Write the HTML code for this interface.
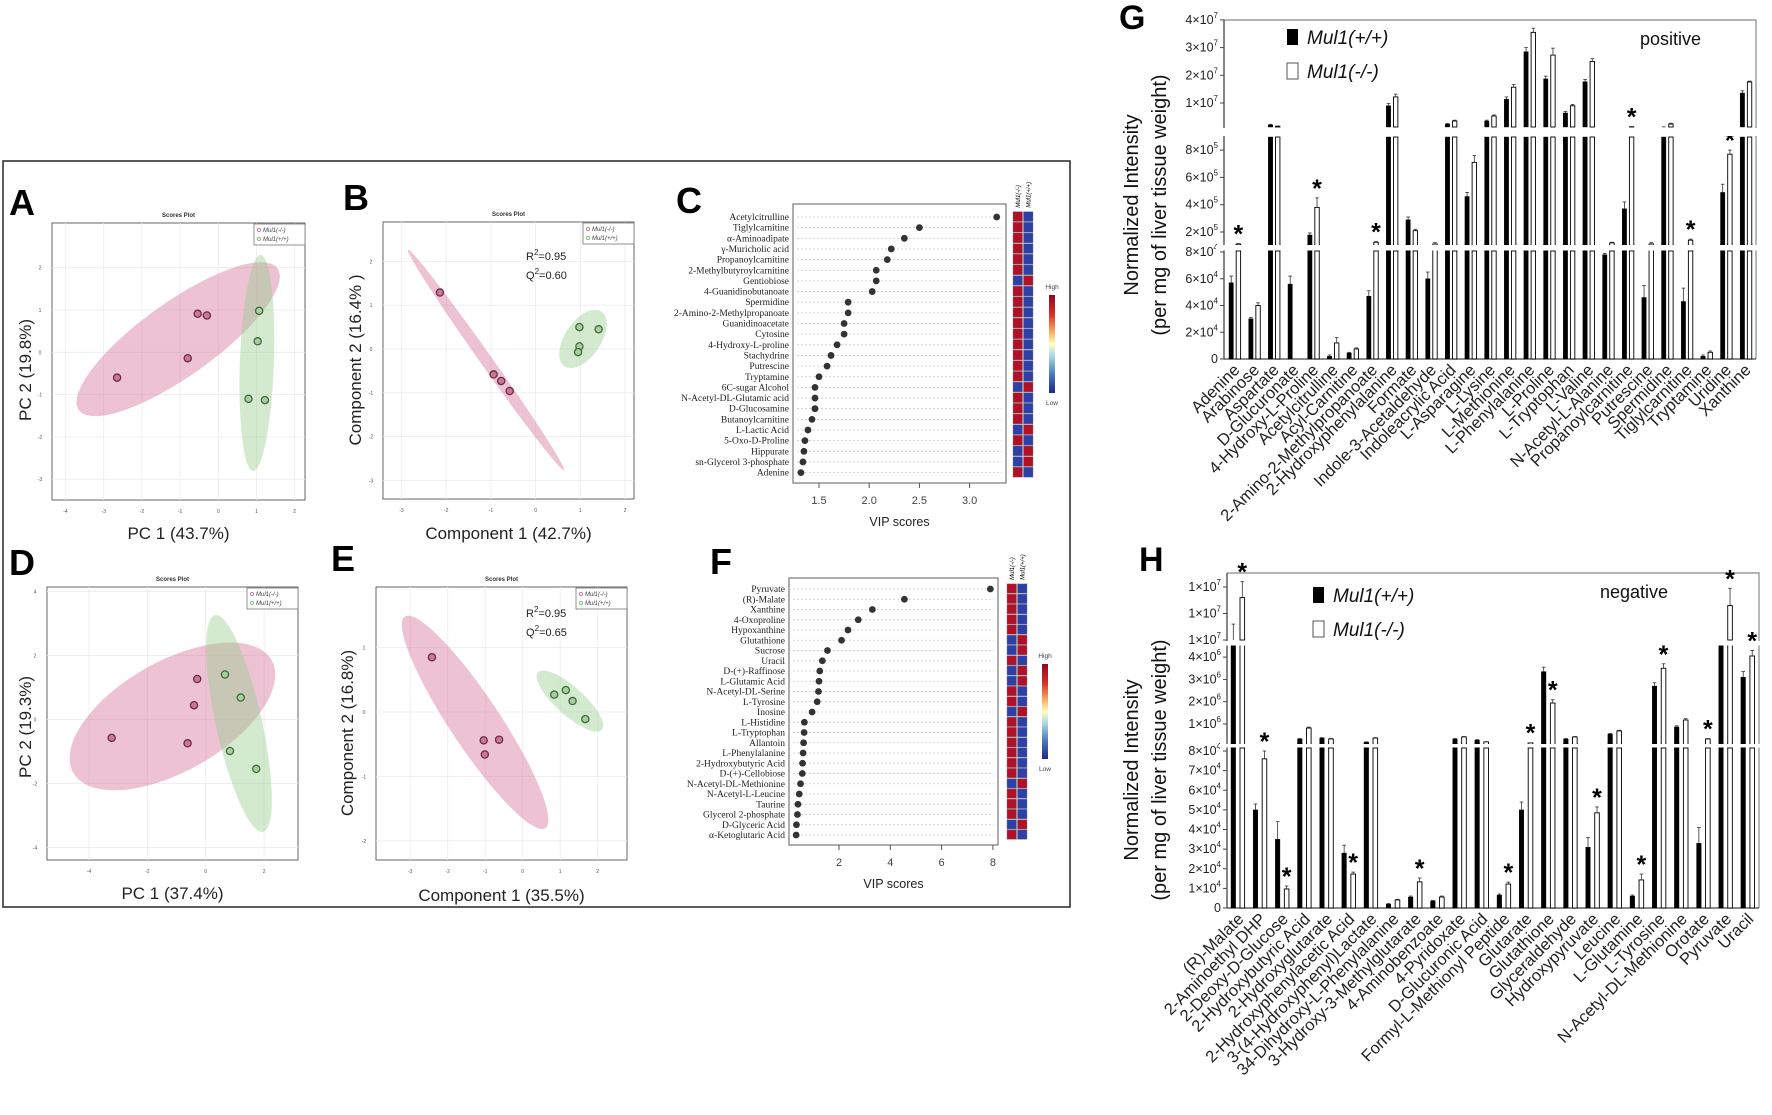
<!DOCTYPE html>
<html><head><meta charset="utf-8">
<style>
html,body{margin:0;padding:0;background:#fff;}
svg{display:block;font-family:"Liberation Sans",Arial,sans-serif;}
</style></head>
<body>
<svg id="fig" width="1772" height="1115" viewBox="0 0 1772 1115" xmlns="http://www.w3.org/2000/svg">
<defs>
<linearGradient id="cbar" x1="0" y1="0" x2="0" y2="1">
<stop offset="0" stop-color="#8b0a1e"/><stop offset="0.2" stop-color="#d73027"/><stop offset="0.38" stop-color="#fdae61"/><stop offset="0.5" stop-color="#ffffbf"/><stop offset="0.62" stop-color="#abd9e9"/><stop offset="0.82" stop-color="#4575b4"/><stop offset="1" stop-color="#1c2a8c"/>
</linearGradient>
</defs>
<rect x="3" y="161" width="1067" height="746" fill="none" stroke="#333" stroke-width="1.6"/>
</svg>
<script>
// ---------- DATA ----------
// Panel A (PCA)
const aKOx=[-0.54,-0.30,-0.80,-2.65], aKOy=[0.91,0.87,-0.14,-0.60];
const aWTx=[1.07,1.03,0.79,1.22], aWTy=[0.98,0.26,-1.10,-1.13];
const aXTicks=[-4,-3,-2,-1,0,1,2], aYTicks=[2,1,0,-1,-2,-3];
// Panel B (PLS-DA)
const bKOx=[-2.14,-0.94,-0.77,-0.58], bKOy=[1.29,-0.58,-0.73,-0.96];
const bWTx=[0.98,1.41,0.98,0.95], bWTy=[0.50,0.45,0.06,-0.07];
const bXTicks=[-3,-2,-1,0,1,2], bYTicks=[2,1,0,-1,-2,-3];
// Panel D (PCA)
const dKOx=[-0.29,-0.40,-0.62,-3.22], dKOy=[1.26,0.44,-0.75,-0.58];
const dWTx=[0.66,1.20,0.83,1.73], dWTy=[1.40,0.68,-0.99,-1.55];
const dXTicks=[-4,-2,0,2], dYTicks=[4,2,0,-2,-4];
// Panel E (PLS-DA)
const eKOx=[-2.42,-1.04,-0.63,-1.01], eKOy=[0.85,-0.44,-0.43,-0.66];
const eWTx=[0.84,1.15,1.33,1.67], eWTy=[0.27,0.34,0.17,-0.11];
const eXTicks=[-3,-2,-1,0,1,2], eYTicks=[1,0,-1,-2];
// Panel C (VIP)
const cNames=["Acetylcitrulline","Tiglylcarnitine","α-Aminoadipate","γ-Muricholic acid","Propanoylcarnitine","2-Methylbutyroylcarnitine","Gentiobiose","4-Guanidinobutanoate","Spermidine","2-Amino-2-Methylpropanoate","Guanidinoacetate","Cytosine","4-Hydroxy-L-proline","Stachydrine","Putrescine","Tryptamine","6C-sugar Alcohol","N-Acetyl-DL-Glutamic acid","D-Glucosamine","Butanoylcarnitine","L-Lactic Acid","5-Oxo-D-Proline","Hippurate","sn-Glycerol 3-phosphate","Adenine"];
const cVip=[3.27,2.5,2.35,2.22,2.18,2.07,2.07,2.03,1.79,1.79,1.75,1.75,1.68,1.62,1.58,1.5,1.46,1.46,1.46,1.43,1.39,1.36,1.35,1.34,1.32];
const cHeatKO=[1,1,1,1,1,1,0,1,1,1,1,1,1,1,1,1,0,1,1,1,0,1,0,0,1];
const cHeatWT=[0,0,0,0,0,0,1,0,0,0,0,0,0,0,0,0,1,0,0,0,1,0,1,1,0];
const cTicks=[1.5,2.0,2.5,3.0];
// Panel F (VIP)
const fNames=["Pyruvate","(R)-Malate","Xanthine","4-Oxoproline","Hypoxanthine","Glutathione","Sucrose","Uracil","D-(+)-Raffinose","L-Glutamic Acid","N-Acetyl-DL-Serine","L-Tyrosine","Inosine","L-Histidine","L-Tryptophan","Allantoin","L-Phenylalanine","2-Hydroxybutyric Acid","D-(+)-Cellobiose","N-Acetyl-DL-Methionine","N-Acetyl-L-Leucine","Taurine","Glycerol 2-phosphate","D-Glyceric Acid","α-Ketoglutaric Acid"];
const fVip=[7.9,4.55,3.3,2.75,2.35,2.1,1.55,1.35,1.25,1.22,1.2,1.15,0.95,0.65,0.64,0.62,0.6,0.58,0.57,0.5,0.45,0.4,0.38,0.34,0.33];
const fHeatKO=[1,1,1,1,1,0,0,1,0,0,1,1,0,1,1,1,1,1,1,0,1,1,1,0,1];
const fHeatWT=[0,0,0,0,0,1,1,0,1,1,0,0,1,0,0,0,0,0,0,1,0,0,0,1,0];
const fTicks=[2,4,6,8];
// Panel G (positive mode bars)
const gCats=["Adenine","Arabinose","Aspartate","D-Glucuronate","4-Hydroxy-L-Proline","Acetylcitrulline","Acyl-Carnitine","2-Amino-2-Methylpropanoate","2-Hydroxyphenylalanine","Formate","Indole-3-Acetaldehyde","Indoleacrylic Acid","L-Asparagine","L-Lysine","L-Methionine","L-Phenylalanine","L-Proline","L-Tryptophan","L-Valine","N-Acetyl-L-Alanine","Propanoylcarnitine","Putrescine","Spermidine","Tiglylcarnitine","Tryptamine","Uridine","Xanthine"];
const gWT=[5.7e4,3.0e4,2.1e6,5.6e4,1.78e5,2e3,4.5e3,4.7e4,9.0e6,2.9e5,6.0e4,2.4e6,4.6e5,3.5e6,1.14e7,2.85e7,1.87e7,6.4e6,1.77e7,7.8e4,3.7e5,4.6e4,1.3e6,4.3e4,2e3,4.9e5,1.36e7];
const gKO=[1.1e5,4.0e4,1.6e6,0,3.8e5,1.2e4,7.5e3,1.25e5,1.22e7,2.1e5,8.6e4,3.5e6,7.1e5,5.3e6,1.57e7,3.55e7,2.73e7,9.0e6,2.5e7,1.2e5,1.4e6,8.6e4,2.4e6,1.4e5,5e3,7.7e5,1.76e7];
const gWTerr=[5e3,1e3,2e5,6e3,1.5e4,1e3,5e2,4e3,8e5,2e4,5e3,2e5,3e4,3e5,8e5,1.5e6,1e6,5e5,8e5,1e3,5e4,9e3,1e5,1e4,1e3,6e4,8e5];
const gKOerr=[5e3,2e3,1e5,0,7e4,4e3,8e2,5e3,1e6,1e4,1e3,3e5,5e4,4e5,1e6,1.5e6,2.5e6,5e5,1e6,5e3,1e5,1e3,3e5,8e3,1e3,3e4,3e5];
const gSig=[1,0,0,0,1,0,0,1,0,0,0,0,0,0,0,0,0,0,0,0,1,0,0,1,0,1,0];
const gTickVals=[0,2e4,4e4,6e4,8e4,2e5,4e5,6e5,8e5,1e7,2e7,3e7,4e7];
const gTickMant=["0","2","4","6","8","2","4","6","8","1","2","3","4"];
const gTickExp=["","4","4","4","4","5","5","5","5","7","7","7","7"];
// Panel H (negative mode bars)
const hCats=["(R)-Malate","2-Aminoethyl DHP","2-Deoxy-D-Glucose","2-Hydroxybutyric Acid","2-Hydroxyglutarate","2-Hydroxyphenylacetic Acid","3-(4-Hydroxyphenyl)Lactate","34-Dihydroxy-L-Phenylalanine","3-Hydroxy-3-Methylglutarate","4-Aminobenzoate","4-Pyridoxate","D-Glucuronic Acid","Formyl-L-Methionyl Peptide","Glutarate","Glutathione","Glyceraldehyde","Hydroxypyruvate","Leucine","L-Glutamine","L-Tyrosine","N-Acetyl-DL-Methionine","Orotate","Pyruvate","Uracil"];
const hWT=[1.0e7,5.0e4,3.5e4,3.3e5,3.7e5,2.8e4,1.9e5,2e3,5.6e3,3.6e3,3.3e5,2.8e5,6.6e3,5.0e4,3.35e6,3.3e5,3.1e4,5.5e5,6.1e3,2.7e6,8.7e5,3.3e4,4.6e6,3.1e6];
const hKO=[1.32e7,7.6e4,9.7e3,8.2e5,3.3e5,1.73e4,3.7e5,4.1e3,1.33e4,5.6e3,4.2e5,2.0e5,1.22e4,1.5e5,1.94e6,4.2e5,4.85e4,6.9e5,1.43e4,3.5e6,1.18e6,3.3e5,1.26e7,4.05e6];
const hWTerr=[1.2e6,3e3,9e3,2e4,2e4,4e3,1e4,3e2,5e2,3e2,2e4,2e4,5e2,4e3,2e5,2e4,5e3,3e4,5e2,1.5e5,5e4,8e3,0,2.5e5];
const hKOerr=[1.2e6,4e3,1.5e3,4e4,2e4,1e3,2e4,3e2,2e3,5e2,2e4,1e4,1e3,1e4,1.5e5,2e4,3e3,3e4,3e3,2e5,6e4,2e4,1.3e6,2.5e5];
const hSig=[1,1,1,0,0,1,0,0,1,0,0,0,1,1,1,0,1,0,1,1,0,1,1,1];
const hTickVals=[0,1e4,2e4,3e4,4e4,5e4,6e4,7e4,8e4,1e6,2e6,3e6,4e6,1.0e7,1.2e7,1.4e7];
const hTickMant=["0","1","2","3","4","5","6","7","8","1","2","3","4","1","1","1"];
const hTickExp=["","4","4","4","4","4","4","4","4","6","6","6","6","7","7","7"];

// ---------- HELPERS ----------
const NS="http://www.w3.org/2000/svg";
const svg=document.getElementById('fig');
function mk(tag,attrs,name,parent){
  const el=document.createElementNS(NS,tag);
  for(const k in attrs) el.setAttribute(k,attrs[k]);
  
  
  (parent||svg).appendChild(el);
  return el;
}
function txt(x,y,s,attrs,name,parent){
  const a=Object.assign({x:x,y:y},attrs||{});
  const t=mk('text',a,name,parent); t.textContent=s; return t;
}
function grp(name){return mk('g',{},name);}

// ---------- SCATTER PANELS ----------
function scatter(p){
  const g=grp(p.id+'-scores-plot');
  const X=v=>p.x0+v*p.ux, Y=v=>p.y0-v*p.uy;
  txt(p.lx,p.ly,p.letter,{'font-size':36,'font-weight':'bold'},p.id+'-panel-label',g);
  txt((p.bx+p.bx2)/2,p.by-6,'Scores Plot',{'font-size':6,'font-weight':'bold','text-anchor':'middle',fill:'#333'},p.id+'-title',g);
  mk('rect',{x:p.bx,y:p.by,width:p.bx2-p.bx,height:p.by2-p.by,fill:'#fff',stroke:'#666','stroke-width':1},p.id+'-plot-area',g);
  p.xt.forEach(v=>{
    mk('line',{x1:X(v),x2:X(v),y1:p.by,y2:p.by2,stroke:'#ececec','stroke-width':0.8},p.id+'-x-gridline',g);
    txt(X(v),p.by2+13,String(v),{'font-size':5,'text-anchor':'middle',fill:'#555'},p.id+'-x-tick-label',g);
  });
  p.yt.forEach(v=>{
    mk('line',{x1:p.bx,x2:p.bx2,y1:Y(v),y2:Y(v),stroke:'#ececec','stroke-width':0.8},p.id+'-y-gridline',g);
    txt(p.bx-12,Y(v)+2,String(v),{'font-size':5,'text-anchor':'middle',fill:'#555'},p.id+'-y-tick-label',g);
  });
  p.ell.forEach((e,i)=>{
    const cx=X(e[0]),cy=Y(e[1]);
    mk('ellipse',{cx:cx,cy:cy,rx:e[2],ry:e[3],transform:`rotate(${e[4]} ${cx} ${cy})`,fill:i==0?'rgba(214,120,155,0.45)':'rgba(150,205,140,0.42)'},p.id+(i==0?'-ko-ellipse':'-wt-ellipse'),g);
  });
  p.kx.forEach((v,i)=>mk('circle',{cx:X(v),cy:Y(p.ky[i]),r:3.6,fill:'#c77a95',stroke:'#6e2a45','stroke-width':1.3},p.id+'-ko-point',g));
  p.wx.forEach((v,i)=>mk('circle',{cx:X(v),cy:Y(p.wy[i]),r:3.6,fill:'#a9cf9e',stroke:'#3f6a3f','stroke-width':1.3},p.id+'-wt-point',g));
  const lg=mk('g',{},p.id+'-legend',g);
  mk('rect',{x:p.bx2-51,y:p.by+1,width:51,height:21,fill:'#fff',stroke:'#777','stroke-width':0.8},p.id+'-legend-box',lg);
  mk('circle',{cx:p.bx2-46,cy:p.by+7,r:1.6,fill:'none',stroke:'#c77a95'},p.id+'-legend-ko-marker',lg);
  txt(p.bx2-42,p.by+9,'Mul1(-/-)',{'font-size':6,'font-style':'italic',fill:'#444'},p.id+'-legend-ko-label',lg);
  mk('circle',{cx:p.bx2-46,cy:p.by+16,r:1.6,fill:'none',stroke:'#7fbf6f'},p.id+'-legend-wt-marker',lg);
  txt(p.bx2-42,p.by+18,'Mul1(+/+)',{'font-size':6,'font-style':'italic',fill:'#444'},p.id+'-legend-wt-label',lg);
  if(p.r2){
    const r=txt(p.r2x,p.r2y,'',{'font-size':11,fill:'#222'},p.id+'-r2-label',g);
    r.innerHTML='R<tspan dy="-5" font-size="8">2</tspan><tspan dy="5">='+p.r2+'</tspan>';
    const q=txt(p.r2x,p.r2y+19,'',{'font-size':11,fill:'#222'},p.id+'-q2-label',g);
    q.innerHTML='Q<tspan dy="-5" font-size="8">2</tspan><tspan dy="5">='+p.q2+'</tspan>';
  }
  txt((p.bx+p.bx2)/2,p.xly,p.xl,{'font-size':17,'text-anchor':'middle',fill:'#222'},p.id+'-x-axis-title',g);
  txt(p.ylx,p.yly,p.yl,{'font-size':17,'text-anchor':'middle',fill:'#222',transform:`rotate(-90 ${p.ylx} ${p.yly})`},p.id+'-y-axis-title',g);
}
scatter({id:'a',letter:'A',lx:9,ly:215,bx:52,bx2:305,by:223,by2:500,x0:218.3,ux:38.2,y0:352.3,uy:42.3,xt:aXTicks,yt:aYTicks,
  kx:aKOx,ky:aKOy,wx:aWTx,wy:aWTy,ell:[[-1.05,0.31,122,37,-35.5],[1.01,-0.25,108,17,92]],xl:'PC 1 (43.7%)',xly:539,yl:'PC 2 (19.8%)',ylx:31,yly:370});
scatter({id:'b',letter:'B',lx:343,ly:210,bx:383,bx2:634,by:222,by2:499,x0:535.6,ux:44.7,y0:349,uy:43.8,xt:bXTicks,yt:bYTicks,
  kx:bKOx,ky:bKOy,wx:bWTx,wy:bWTy,ell:[[-1.11,-0.25,135,6,54.7],[1.06,0.23,33,18,-56]],r2:'0.95',q2:'0.60',r2x:526,r2y:260,
  xl:'Component 1 (42.7%)',xly:539,yl:'Component 2 (16.4% )',ylx:361,yly:360});
scatter({id:'d',letter:'D',lx:9,ly:575,bx:47,bx2:298,by:587,by2:860,x0:205.7,ux:29.2,y0:719.3,uy:32,xt:dXTicks,yt:dYTicks,
  kx:dKOx,ky:dKOy,wx:dWTx,wy:dWTy,ell:[[-1.14,0.09,114,55,-29.6],[1.14,-0.13,111,23,77.5]],xl:'PC 1 (37.4%)',xly:899,yl:'PC 2 (19.3%)',ylx:31,yly:727});
scatter({id:'e',letter:'E',lx:331,ly:571,bx:376,bx2:627,by:587,by2:860,x0:522.7,ux:37.5,y0:712,uy:64.4,xt:eXTicks,yt:eYTicks,
  kx:eKOx,ky:eKOy,wx:eWTx,wy:eWTy,ell:[[-1.27,-0.16,127,25,56.4],[1.26,0.17,43,14,42]],r2:'0.95',q2:'0.65',r2x:526,r2y:617,
  xl:'Component 1 (35.5%)',xly:901,yl:'Component 2 (16.8%)',ylx:353,yly:733});

// ---------- VIP PANELS ----------
function vip(p){
  const g=grp(p.id+'-vip-plot');
  const X=v=>p.x0+(v-p.v0)*p.ux;
  txt(p.lx,p.ly,p.letter,{'font-size':36,'font-weight':'bold'},p.id+'-panel-label',g);
  mk('rect',{x:p.bx,y:p.by,width:p.bx2-p.bx,height:p.by2-p.by,fill:'#fff',stroke:'#777','stroke-width':1.2},p.id+'-plot-area',g);
  p.names.forEach((n,i)=>{
    const y=p.r0+i*p.dr;
    mk('line',{x1:p.bx+4,x2:p.bx2-4,y1:y,y2:y,stroke:'#c8c8c8','stroke-width':0.8,'stroke-dasharray':'2,2'},p.id+'-row-gridline',g);
    txt(p.bx-4,y+3,n,{'font-size':9.5,'text-anchor':'end','font-family':'"Liberation Serif",serif',fill:'#222'},p.id+'-row-label',g);
    mk('circle',{cx:X(p.vals[i]),cy:y,r:3.4,fill:'#333'},p.id+'-vip-dot',g);
    mk('rect',{x:p.hx,y:y-p.dr/2,width:9.5,height:p.dr-0.8,fill:p.ko[i]?'#b01028':'#2e3fa8',stroke:'#777','stroke-width':0.4},p.id+'-heat-ko-cell',g);
    mk('rect',{x:p.hx+10.5,y:y-p.dr/2,width:9.5,height:p.dr-0.8,fill:p.wt[i]?'#b01028':'#2e3fa8',stroke:'#777','stroke-width':0.4},p.id+'-heat-wt-cell',g);
  });
  p.ticks.forEach(v=>{
    mk('line',{x1:X(v),x2:X(v),y1:p.by2,y2:p.by2+5,stroke:'#555'},p.id+'-x-tick',g);
    txt(X(v),p.by2+21,p.fmt(v),{'font-size':11,'text-anchor':'middle',fill:'#444'},p.id+'-x-tick-label',g);
  });
  txt((p.bx+p.bx2)/2,p.by2+43,'VIP scores',{'font-size':12.5,'text-anchor':'middle',fill:'#222'},p.id+'-x-axis-title',g);
  const cy=p.r0-p.dr/2-4;
  txt(p.hx+7,cy,'Mul1(-/-)',{'font-size':6,'font-style':'italic',transform:`rotate(-90 ${p.hx+7} ${cy})`},p.id+'-heat-ko-header',g);
  txt(p.hx+17.5,cy,'Mul1(+/+)',{'font-size':6,'font-style':'italic',transform:`rotate(-90 ${p.hx+17.5} ${cy})`},p.id+'-heat-wt-header',g);
  mk('rect',{x:p.cbx,y:p.cby,width:6,height:p.cbh,fill:'url(#cbar)'},p.id+'-color-bar',g);
  txt(p.cbx+3,p.cby-6,'High',{'font-size':6.5,'text-anchor':'middle',fill:'#444'},p.id+'-color-high-label',g);
  txt(p.cbx+3,p.cby+p.cbh+12,'Low',{'font-size':6.5,'text-anchor':'middle',fill:'#444'},p.id+'-color-low-label',g);
}
vip({id:'c',letter:'C',lx:676,ly:213,bx:793,bx2:1006,by:204,by2:483,v0:1.5,x0:819,ux:100.4,names:cNames,vals:cVip,ko:cHeatKO,wt:cHeatWT,
  r0:217,dr:10.65,hx:1013,ticks:cTicks,fmt:v=>v.toFixed(1),cbx:1049,cby:295,cbh:98});
vip({id:'f',letter:'F',lx:710,ly:574,bx:789,bx2:998,by:578,by2:845,v0:2,x0:839,ux:25.65,names:fNames,vals:fVip,ko:fHeatKO,wt:fHeatWT,
  r0:589,dr:10.25,hx:1007,ticks:fTicks,fmt:v=>String(v),cbx:1042,cby:664,cbh:95});

// ---------- BAR PANELS ----------
function bars(p){
  const g=grp(p.id+'-bar-chart');
  const segY=(v)=>{ // returns pixel of top for value
    let top=null;
    p.segs.forEach(s=>{ if(v>s.vmin){ top=Math.max(s.yt,s.f(v)); } });
    return top;
  };
  const segOf=(v)=>{let r=null;p.segs.forEach(s=>{if(v>s.vmin)r=s;});return r;};
  txt(p.lx,p.ly,p.letter,{'font-size':34,'font-weight':'bold'},p.id+'-panel-label',g);
  // frame
  mk('path',{d:`M${p.ax},${p.top} H${p.right} V${p.base}`,fill:'none',stroke:'#888','stroke-width':1.2},p.id+'-frame',g);
  mk('line',{x1:p.ax,x2:p.right,y1:p.base,y2:p.base,stroke:'#444','stroke-width':1.3},p.id+'-x-axis',g);
  mk('line',{x1:p.ax,x2:p.ax,y1:p.top,y2:p.base,stroke:'#444','stroke-width':1.3},p.id+'-y-axis',g);
  // ticks
  p.tv.forEach((v,i)=>{
    const s=p.segs.find(s=>v>=s.vlo&&v<=s.vhi); const y=s.f(v);
    mk('line',{x1:p.ax-4,x2:p.ax,y1:y,y2:y,stroke:'#444'},p.id+'-y-tick',g);
    const t=txt(p.ax-6,y+4,'',{'font-size':12.5,'text-anchor':'end',fill:'#222'},p.id+'-y-tick-label',g);
    if(p.te[i]) t.innerHTML=p.tm[i]+'×10<tspan dy="-6" font-size="8">'+p.te[i]+'</tspan>'; else t.textContent=p.tm[i];
  });
  // bars
  const drawBar=(x,w,v,err,black,name)=>{
    if(v<=0) return null;
    p.segs.forEach(s=>{
      if(v>s.vmin){
        const yt=Math.max(s.yt,s.f(v));
        if(s.yb-yt>0) mk('rect',{x:x,y:yt,width:w,height:s.yb-yt,fill:black?'#000':'#fff',stroke:'#000','stroke-width':black?0.4:0.9},name,g);
      }
    });
    const s=segOf(v); const yt=segY(v);
    const ye=Math.max(s.yt-2,s.f(v+err));
    if(err>0){
      mk('line',{x1:x+w/2,x2:x+w/2,y1:yt,y2:ye,stroke:'#333','stroke-width':0.8},name+'-error-bar',g);
      mk('line',{x1:x+w/2-1.8,x2:x+w/2+1.8,y1:ye,y2:ye,stroke:'#333','stroke-width':0.8},name+'-error-cap',g);
    }
    return Math.min(yt,ye);
  };
  p.cats.forEach((c,i)=>{
    const bx=p.x0+i*p.dx;
    drawBar(bx,p.bw,p.wt[i],p.wte[i],true,p.id+'-bar-wt');
    const topKO=drawBar(bx+p.off,p.bw,p.ko[i],p.koe[i],false,p.id+'-bar-ko');
    if(p.sig[i]) txt(bx+p.off+p.bw/2,(topKO===null?p.base:topKO)-1,'*',{'font-size':25,'font-weight':'bold','text-anchor':'middle'},p.id+'-significance-star',g);
    const lx=bx+p.off+p.bw, ly=p.base+12;
    txt(lx,ly,c,{'font-size':p.lfs,'text-anchor':'end',fill:'#222',transform:`rotate(-45 ${lx} ${ly})`},p.id+'-x-tick-label',g);
  });
  // axis breaks
  p.breaks.forEach(b=>mk('rect',{x:p.ax-8,y:b[0],width:p.right-p.ax+10,height:b[1]-b[0],fill:'#fff'},p.id+'-axis-break',g));
  // legend
  mk('rect',{x:p.lgx,y:p.lgy,width:11,height:16,fill:'#000'},p.id+'-legend-wt-swatch',g);
  txt(p.lgx+20,p.lgy+15,'Mul1(+/+)',{'font-size':19,'font-style':'italic',fill:'#111'},p.id+'-legend-wt-label',g);
  mk('rect',{x:p.lgx,y:p.lgy+34,width:11,height:16,fill:'#fff',stroke:'#555'},p.id+'-legend-ko-swatch',g);
  txt(p.lgx+20,p.lgy+49,'Mul1(-/-)',{'font-size':19,'font-style':'italic',fill:'#111'},p.id+'-legend-ko-label',g);
  txt(p.modex,p.modey,p.mode,{'font-size':18,fill:'#111'},p.id+'-mode-label',g);
  txt(p.tx1,p.ty,'Normalized Intensity',{'font-size':20,'text-anchor':'middle',fill:'#111',transform:`rotate(-90 ${p.tx1} ${p.ty})`},p.id+'-y-axis-title',g);
  txt(p.tx2,p.ty,'(per mg of liver tissue weight)',{'font-size':20,'text-anchor':'middle',fill:'#111',transform:`rotate(-90 ${p.tx2} ${p.ty})`},p.id+'-y-axis-subtitle',g);
}
bars({id:'g',letter:'G',lx:1119,ly:29,ax:1224,right:1756,top:20,base:359,x0:1229,dx:19.66,bw:4.4,off:7.2,
  cats:gCats,wt:gWT,ko:gKO,wte:gWTerr,koe:gKOerr,sig:gSig,tv:gTickVals,tm:gTickMant,te:gTickExp,lfs:16.5,
  segs:[{vmin:0,vlo:0,vhi:8.6e4,yb:359,yt:244,f:v=>359-v*107/8e4},
        {vmin:8.6e4,vlo:1e5,vhi:9e5,yb:251,yt:137,f:v=>232-(v-2e5)*27.3/2e5},
        {vmin:1.13e6,vlo:1e6,vhi:5e7,yb:127,yt:20,f:v=>103-(v-1e7)*27.7/1e7}],
  breaks:[[128,136],[245,250.5]],lgx:1287,lgy:29,mode:'positive',modex:1640,modey:45,tx1:1138,tx2:1166,ty:205});
bars({id:'h',letter:'H',lx:1139,ly:571,ax:1227,right:1759,top:573,base:908,x0:1231,dx:22.17,bw:4.6,off:9,
  cats:hCats,wt:hWT,ko:hKO,wte:hWTerr,koe:hKOerr,sig:hSig,tv:hTickVals,tm:hTickMant,te:hTickExp,lfs:16.5,
  segs:[{vmin:0,vlo:0,vhi:8.4e4,yb:908,yt:743,f:v=>908-v*157/8e4},
        {vmin:8.4e4,vlo:5e5,vhi:5e6,yb:748,yt:643,f:v=>724-(v-1e6)*22.3/1e6},
        {vmin:9.9e6,vlo:9.9e6,vhi:5e7,yb:640,yt:573,f:v=>640-(v-1e7)*26.5/2e6}],
  breaks:[[641,645.5],[744,747.5]],lgx:1313,lgy:587,mode:'negative',modex:1600,modey:598,tx1:1138,tx2:1166,ty:770});
</script>
</body></html>
